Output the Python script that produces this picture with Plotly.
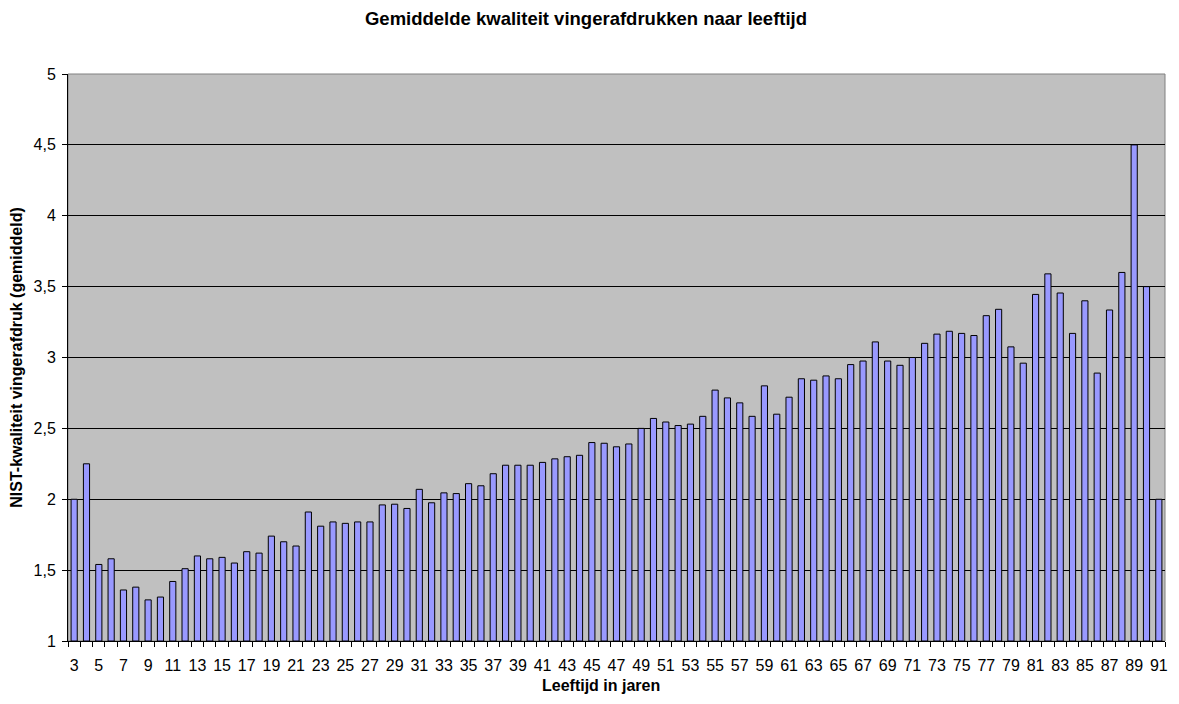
import plotly.graph_objects as go

# Ages 3..91 and mean NIST quality per age
ages = list(range(3, 92))
quality = [
    2.00, 2.25, 1.54, 1.58, 1.36, 1.38, 1.29, 1.31, 1.42, 1.51,   # 3-12
    1.60, 1.58, 1.59, 1.55, 1.63, 1.62, 1.74, 1.70, 1.67, 1.91,   # 13-22
    1.81, 1.84, 1.83, 1.84, 1.84, 1.96, 1.965, 1.935, 2.07, 1.975,  # 23-32
    2.045, 2.04, 2.11, 2.095, 2.18, 2.24, 2.24, 2.24, 2.26, 2.285,  # 33-42
    2.30, 2.31, 2.40, 2.395, 2.37, 2.39, 2.50, 2.57, 2.545, 2.52,  # 43-52
    2.53, 2.585, 2.77, 2.715, 2.68, 2.585, 2.80, 2.60, 2.72, 2.85,  # 53-62
    2.84, 2.87, 2.85, 2.95, 2.975, 3.11, 2.975, 2.945, 3.00, 3.10,  # 63-72
    3.165, 3.185, 3.17, 3.155, 3.295, 3.34, 3.075, 2.96, 3.445, 3.59,  # 73-82
    3.455, 3.17, 3.40, 2.89, 3.335, 3.60, 4.50, 3.50, 2.00,        # 83-91
]
tick_ages = list(range(3, 92, 2))
y_min = 1

font = "Liberation Sans, Arial, sans-serif"

# page body has an 8px margin, so the figure is a bit smaller than the window
W, H = 1171, 696

fig = go.Figure()
fig.add_trace(go.Bar(
    x=ages,
    y=[q - y_min for q in quality],   # bars grow from the axis minimum
    base=y_min,
    width=0.5,
    marker=dict(color="#9999FF", line=dict(color="black", width=1)),
    customdata=quality,
    hovertemplate="%{x}: %{customdata}<extra></extra>",
    showlegend=False,
))

fig.update_layout(
    width=W,
    height=H,
    separators=",.",
    paper_bgcolor="white",
    plot_bgcolor="#C0C0C0",
    margin=dict(l=60, r=14, t=66, b=63),
    font=dict(family=font, size=16, color="black"),
    title=dict(
        text="<b>Gemiddelde kwaliteit vingerafdrukken naar leeftijd</b>",
        x=578 / W, xanchor="center", y=1 - 11 / H, yanchor="middle", yref="container",
        font=dict(family=font, size=18.5, color="black"),
    ),
    xaxis=dict(
        range=[2.5, 91.5],
        tickvals=tick_ages,
        ticktext=[str(a) for a in tick_ages],
        ticks="outside",
        ticklen=5,
        tickcolor="rgba(0,0,0,0)",
        ticklabelstandoff=5,
        automargin=False,
        showgrid=False,
        zeroline=False,
        showline=True,
        linecolor="black",
        linewidth=1,
        tickfont=dict(size=16),
        minor=dict(ticks="outside", tick0=2.5, dtick=1, ticklen=5, tickcolor="black", showgrid=False),
    ),
    yaxis=dict(
        range=[1, 5],
        dtick=0.5,
        tick0=1,
        ticks="outside",
        ticklen=5,
        tickcolor="black",
        ticklabelstandoff=3,
        automargin=False,
        showgrid=True,
        gridcolor="black",
        gridwidth=1,
        zeroline=False,
        showline=True,
        linecolor="black",
        linewidth=1,
        tickfont=dict(size=16),
        title=dict(text="<b>NIST-kwaliteit vingerafdruk (gemiddeld)</b>", font=dict(size=16), standoff=14),
    ),
    annotations=[dict(
        text="<b>Leeftijd in jaren</b>", xref="paper", yref="paper",
        x=0.486, y=-(685 - 641) / (H - 66 - 63), xanchor="center", yanchor="middle",
        showarrow=False, font=dict(family=font, size=16, color="black"),
    )],
    shapes=[dict(type="rect", xref="paper", yref="paper", x0=0, x1=1, y0=0, y1=1,
                 line=dict(color="#808080", width=1), layer="below")],
)

fig.write_html("out.html")
